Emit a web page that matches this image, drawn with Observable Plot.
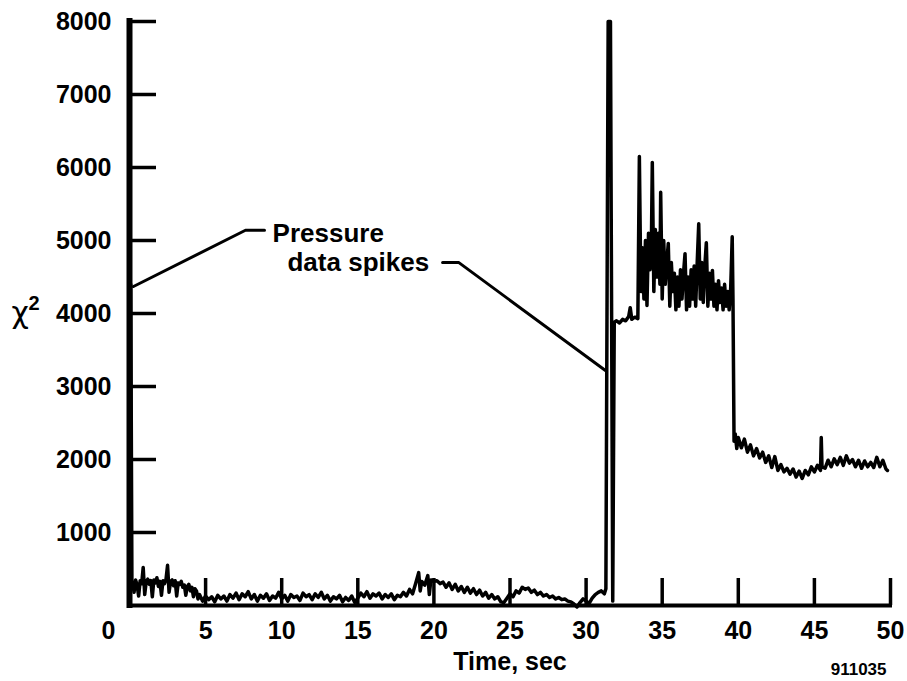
<!DOCTYPE html>
<html><head><meta charset="utf-8">
<script src="https://cdn.jsdelivr.net/npm/d3@7"></script>
<script src="https://cdn.jsdelivr.net/npm/@observablehq/plot@0.6"></script>
<style>html,body{margin:0;padding:0;background:#fff;} #chart svg{display:block}</style>
</head><body><div id="chart"></div>
<script>
// Time (s) and chi-square values
const timeSec = [
 0.0,0.08,0.16,0.2,0.3,0.4,0.5,0.6,0.7,0.8,0.9,1.0,1.1,1.2,1.3,1.4,1.5,1.6,1.7,1.8,1.9,2.0,2.1,2.2,2.3,2.4,2.5,2.6,2.7,2.8,2.9,3.0,3.1,3.2,3.3,3.4,3.5,3.6,3.7,3.8,3.9,4.0,4.1,4.2,4.3,4.4,4.5,4.6,
 4.8,5.0,5.2,5.4,5.6,5.8,6.0,6.2,6.4,6.6,6.8,7.0,7.2,7.4,7.6,7.8,8.0,8.2,8.4,8.6,8.8,9.0,9.2,9.4,9.6,9.8,10.0,10.2,10.4,10.6,10.8,11.0,11.2,11.4,11.6,11.8,12.0,12.2,12.4,12.6,12.8,13.0,13.2,13.4,13.6,13.8,14.0,14.2,14.4,14.6,14.8,15.0,
 15.2,15.4,15.6,15.8,16.0,16.2,16.4,16.6,16.8,17.0,17.2,17.4,17.6,17.8,18.0,18.2,18.4,18.6,
 18.8,19.0,19.1,19.2,19.4,19.6,19.7,19.8,20.0,20.2,20.4,20.6,
 20.8,21.0,21.2,21.4,21.6,21.8,22.0,22.2,22.4,22.6,22.8,23.0,23.2,23.4,23.6,23.8,24.0,24.2,24.4,24.6,
 24.8,25.0,25.2,25.4,25.6,25.8,26.0,26.2,26.4,26.6,26.8,27.0,27.2,27.4,27.6,27.8,28.0,28.2,28.4,28.6,28.8,29.0,29.2,29.4,29.6,29.8,30.0,30.2,30.4,30.6,30.8,31.0,31.2,31.3,
 31.45,31.6,31.75,31.85,
 32.0,32.2,32.4,32.6,32.8,32.9,33.0,33.2,33.4,33.5,33.6,
 33.7,33.8,33.9,34.0,34.1,34.2,34.3,34.35,34.45,34.55,34.65,34.75,34.85,34.9,35.0,35.1,35.2,35.3,35.4,35.5,35.6,35.7,35.8,35.9,36.0,
 36.1,36.2,36.3,36.4,36.5,36.6,36.7,36.8,36.9,37.0,37.1,37.2,37.3,37.4,37.5,37.6,37.7,37.8,37.9,38.0,38.1,38.2,38.3,38.4,38.5,38.6,38.7,38.8,38.9,39.0,39.1,39.2,39.3,39.4,39.5,39.6,39.65,39.72,
 39.8,39.9,40.0,40.2,40.4,40.6,40.8,41.0,41.2,41.4,41.6,41.8,42.0,42.2,42.4,42.6,42.8,43.0,43.2,43.4,43.6,43.8,44.0,44.2,44.4,44.6,44.8,45.0,45.2,45.4,45.45,45.5,
 45.7,45.9,46.1,46.3,46.5,46.7,46.9,47.1,47.3,47.5,47.7,47.9,48.1,48.3,48.5,48.7,48.9,49.1,49.3,49.5,49.7,49.8
];
const chiSquare = [
 300,4400,250,320,180,350,280,130,340,300,520,150,330,360,290,340,120,350,310,380,260,330,140,340,300,360,550,180,330,350,270,340,130,310,290,330,250,280,140,260,290,200,250,120,230,200,90,150,
 60,130,80,120,50,140,90,130,60,150,100,170,80,160,120,190,90,150,60,140,100,160,70,130,100,180,90,140,60,150,110,130,70,170,120,150,80,160,110,180,90,140,60,120,90,140,50,110,70,130,40,100,
 170,120,190,100,160,130,170,90,150,110,160,80,140,120,180,130,220,160,
 300,450,200,330,280,410,150,350,330,340,300,320,
 250,310,220,290,200,260,180,250,170,230,150,210,130,180,100,150,90,120,50,40,
 100,160,120,200,170,250,220,240,180,210,150,180,130,150,110,130,90,110,80,90,60,50,20,-20,40,90,60,30,100,150,180,200,160,230,
 8000,8000,60,3880,
 3900,3870,3920,3900,3960,4080,3920,3950,3930,6150,4300,
 4900,4200,5000,4110,5100,4600,5150,6070,4300,5150,4500,5100,4400,5660,4200,5000,4400,4700,4960,4100,4700,4300,4550,4050,4500,
 4100,4600,4200,4550,4820,4050,4500,4100,4600,4200,4650,4100,4700,5230,4200,4700,4150,4650,4970,4100,4550,4200,4590,4100,4400,4050,4450,4150,4350,4050,4400,4100,4300,4050,4350,5050,4200,2250,
 2350,2150,2300,2160,2280,2100,2200,2050,2150,2020,2100,1960,2050,1890,2040,1850,1930,1830,1880,1800,1870,1760,1840,1740,1850,1790,1900,1830,1920,1850,2300,1900,
 1880,1990,1900,2010,1930,2030,1920,2050,1950,2000,1900,1990,1880,1980,1900,1960,1890,2030,1900,1990,1870,1850
];
const yTicks = [1000,2000,3000,4000,5000,6000,7000,8000];
const xTicks = [5,10,15,20,25,30,35,40,45,50];
const xTitle = "Time, sec";
const yTitle = "χ";
const yTitleSup = "2";
const figureId = "911035";
const calloutTop = "Pressure";
const calloutBottom = "data spikes";
// callout leader lines (data coordinates)
const leaderA = [{t:0.26,v:4370},{t:7.62,v:5140},{t:8.87,v:5140}];
const leaderB = [{t:20.57,v:4700},{t:21.62,v:4700},{t:31.27,v:3220}];

const series = timeSec.map((t,i)=>({t, v: chiSquare[i]}));

const W = 907, H = 681, mL = 129, mR = 17, mT = 21, mB = 76;
const tickLenX = 27 * 50 / (W - mL - mR);
const tickLenY = 27 * 8000 / (H - mT - mB);
const font = "'Liberation Sans', Arial, Helvetica, sans-serif";
const fmt = d3.format("d");

const chart = Plot.plot({
  width: W, height: H,
  marginLeft: mL, marginRight: mR, marginTop: mT, marginBottom: mB,
  x: {domain: [0, 50]},
  y: {domain: [0, 8000]},
  style: {fontFamily: font, fontWeight: "bold", fontSize: "25px", color: "#000", background: "#fff"},
  marks: [
    Plot.axisY(yTicks, {tickSize: 0, tickPadding: 18, label: null, tickFormat: fmt, fontSize: 25, fontWeight: "bold", letterSpacing: 1}),
    Plot.axisX(xTicks, {tickSize: 0, tickPadding: 16, label: null, tickFormat: fmt, fontSize: 25, fontWeight: "bold", letterSpacing: 1}),
    Plot.text(["0"], {x: 0, y: 0, dx: -21, dy: 25, fontSize: 25, fontWeight: "bold"}),
    Plot.text([xTitle], {x: 25, y: 0, dy: 56, fontSize: 25, fontWeight: "bold"}),
    Plot.text([figureId], {x: 50, y: 0, dx: -4, dy: 64, textAnchor: "end", fontSize: 17, fontWeight: "bold", letterSpacing: 1}),
    Plot.text([yTitle], {frameAnchor: "left", y: 4000, dx: -118, dy: 0, textAnchor: "start", fontSize: 30, fontWeight: "normal", fontFamily: "'DejaVu Sans', sans-serif"}),
    Plot.text([yTitleSup], {frameAnchor: "left", y: 4000, dx: -101, dy: -10, textAnchor: "start", fontSize: 20, fontWeight: "bold"}),
    Plot.line(series, {x: "t", y: "v", stroke: "#000", strokeWidth: 3.5}),
    Plot.ruleY(yTicks, {x1: 0, x2: tickLenX, stroke: "#000", strokeWidth: 3.5}),
    Plot.ruleX(xTicks, {y1: 0, y2: tickLenY, stroke: "#000", strokeWidth: 3.5}),
    Plot.ruleX([0], {y1: 0, y2: 8000, stroke: "#000", strokeWidth: 6, strokeLinecap: "square"}),
    Plot.ruleY([0], {x1: 0, x2: 50, stroke: "#000", strokeWidth: 4, strokeLinecap: "square"}),
    Plot.line(leaderA, {x: "t", y: "v", stroke: "#000", strokeWidth: 3, strokeLinejoin: "miter"}),
    Plot.line(leaderB, {x: "t", y: "v", stroke: "#000", strokeWidth: 3, strokeLinejoin: "miter"}),
    Plot.text([calloutTop], {x: 9.4, y: 5100, textAnchor: "start", fontSize: 26, fontWeight: "bold"}),
    Plot.text([calloutBottom], {x: 10.38, y: 4700, textAnchor: "start", fontSize: 26, fontWeight: "bold"})
  ]
});
document.getElementById("chart").appendChild(chart);
</script>
</body></html>
